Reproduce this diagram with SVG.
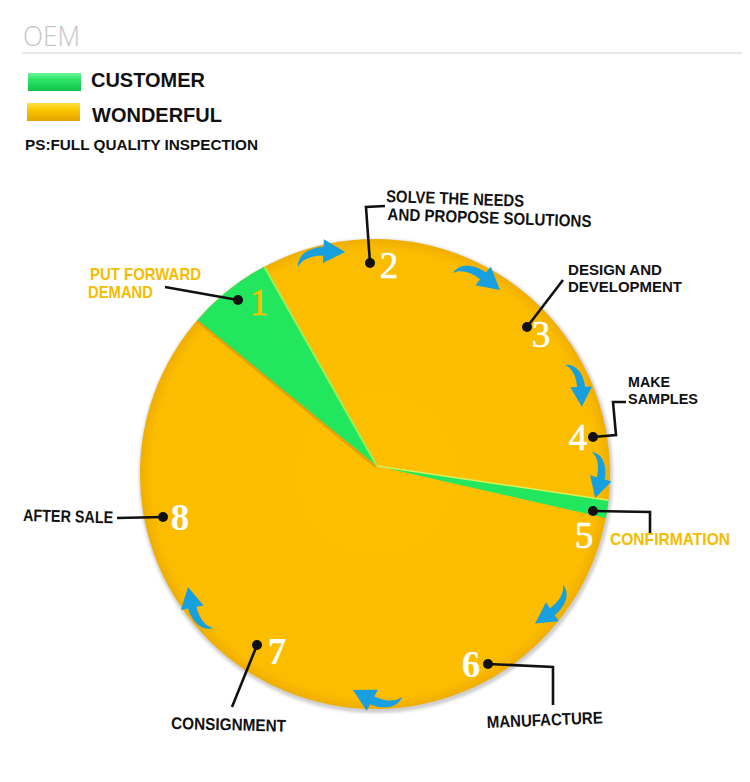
<svg xmlns="http://www.w3.org/2000/svg" width="750" height="782" viewBox="0 0 750 782">
<defs>
<style>
.lbl{font-family:"Liberation Sans",Arial,sans-serif;font-weight:bold;font-size:17px;fill:#111}
.sm{font-size:14.5px}
.ylw{fill:#F5BC00}
.num{font-family:"Liberation Serif","DejaVu Serif",serif;font-size:37px;fill:#fff;text-anchor:middle;stroke:#fff;stroke-width:0.6}
.bold{font-weight:bold;stroke-width:0}
.lead{fill:none;stroke:#111;stroke-width:2.6;stroke-linejoin:miter}
.dot{fill:#111}
.arw{fill:#189FDD}
</style>
<linearGradient id="gGreen" x1="0" y1="0" x2="0" y2="1">
<stop offset="0" stop-color="#6ff59a"/><stop offset="0.35" stop-color="#2ee56a"/><stop offset="1" stop-color="#10c247"/>
</linearGradient>
<linearGradient id="gYellow" x1="0" y1="0" x2="0" y2="1">
<stop offset="0" stop-color="#ffe24a"/><stop offset="0.35" stop-color="#fcc800"/><stop offset="1" stop-color="#e4a400"/>
</linearGradient>
<radialGradient id="gPie" cx="375" cy="474" r="235" gradientUnits="userSpaceOnUse">
<stop offset="0" stop-color="#FDBF00"/><stop offset="0.95" stop-color="#FCBD00"/><stop offset="1" stop-color="#F0AE00"/>
</radialGradient>
<filter id="blur" x="-10%" y="-10%" width="120%" height="120%"><feGaussianBlur stdDeviation="1.6"/></filter>
<path id="arrow" d="M0,0 C2,-10 14,-16 30.8,-11.7 L33.4,-18.8 L50,0 L25.2,3.8 L27.8,-3.3 C16,-7 6,-6 0,0 Z"/>
</defs>
<rect width="750" height="782" fill="#fff"/>

<g id="header">
<text x="23" y="46" textLength="57" lengthAdjust="spacingAndGlyphs" style="font-family:'Open Sans','Liberation Sans',sans-serif;font-weight:300;font-size:28px;fill:#c6c6c6">OEM</text>
<line x1="22" y1="53" x2="742" y2="53" stroke="#cfcfcf" stroke-width="1.2"/>
</g>

<g id="legend">
<rect x="28" y="73" width="53" height="18" fill="url(#gGreen)"/>
<rect x="27" y="103" width="53" height="18" fill="url(#gYellow)"/>
<text class="lbl" x="91" y="87" style="font-size:19.5px" textLength="114" lengthAdjust="spacingAndGlyphs">CUSTOMER</text>
<text class="lbl" x="92" y="121.5" style="font-size:19.5px" textLength="130" lengthAdjust="spacingAndGlyphs">WONDERFUL</text>
<text class="lbl" x="25" y="150" style="font-size:15px" textLength="233" lengthAdjust="spacingAndGlyphs">PS:FULL QUALITY INSPECTION</text>
</g>

<g id="pie">
<circle cx="376" cy="476" r="237" fill="#cfcfcf" filter="url(#blur)"/>
<circle cx="375" cy="474" r="235" fill="url(#gPie)"/>
<path d="M377,466 L264.3,266.7 A235,235 0 0,0 196.8,320.9 Z" fill="#22E65E"/>
<line x1="377" y1="466" x2="264.3" y2="266.7" stroke="#9bef5a" stroke-width="2"/>
<line x1="376" y1="467" x2="197.5" y2="321.5" stroke="#E4A200" stroke-width="2.5"/>
<path d="M377,466 L608.5,500.2 A235,235 0 0,1 605.9,518 Z" fill="#22E65E"/>
<line x1="377" y1="466" x2="608.5" y2="500.2" stroke="#d8f05a" stroke-width="1.5"/>
</g>

<g id="connectors">
<use href="#arrow" class="arw" transform="translate(298,267) rotate(-17.7) scale(0.99)"/>
<use href="#arrow" class="arw" transform="translate(453,273) rotate(19.9) scale(1)"/>
<use href="#arrow" class="arw" transform="translate(565,365) rotate(68) scale(0.9)"/>
<use href="#arrow" class="arw" transform="translate(592,452) rotate(86) scale(0.92)"/>
<use href="#arrow" class="arw" transform="translate(563,585) rotate(126) scale(0.95)"/>
<use href="#arrow" class="arw" transform="translate(402,697) rotate(188) scale(0.99)"/>
<use href="#arrow" class="arw" transform="translate(213,628) rotate(238.6) scale(0.96)"/>
</g>

<g id="step1">
<polyline class="lead" points="238,300 165,287"/>
<circle class="dot" cx="238" cy="300" r="5"/>
<text class="num" x="259" y="315" style="fill:#F5C000;stroke:#F5C000">1</text>
<text class="lbl ylw" x="90" y="280" textLength="111" lengthAdjust="spacingAndGlyphs">PUT FORWARD</text>
<text class="lbl ylw" x="88" y="298" textLength="65" lengthAdjust="spacingAndGlyphs">DEMAND</text>
</g>

<g id="step2">
<polyline class="lead" points="370,263 366,207 385,206"/>
<circle class="dot" cx="370" cy="263" r="5"/>
<text class="num" x="389" y="278">2</text>
<g transform="rotate(2 386 202)">
<text class="lbl" x="386" y="202" textLength="138" lengthAdjust="spacingAndGlyphs">SOLVE THE NEEDS</text>
<text class="lbl" x="388" y="220" textLength="204" lengthAdjust="spacingAndGlyphs">AND PROPOSE SOLUTIONS</text>
</g>
</g>

<g id="step3">
<polyline class="lead" points="527,327 563,280"/>
<circle class="dot" cx="527" cy="327" r="5"/>
<text class="num" x="541" y="347">3</text>
<text class="lbl sm" x="568" y="275" textLength="94" lengthAdjust="spacingAndGlyphs">DESIGN AND</text>
<text class="lbl sm" x="568" y="291.5" textLength="114" lengthAdjust="spacingAndGlyphs">DEVELOPMENT</text>
</g>

<g id="step4">
<polyline class="lead" points="593,437 616,435 613,402 626,402"/>
<circle class="dot" cx="593" cy="437" r="5"/>
<text class="num" x="578" y="450">4</text>
<text class="lbl sm" x="628" y="387" textLength="42" lengthAdjust="spacingAndGlyphs">MAKE</text>
<text class="lbl sm" x="628" y="403.5" textLength="70" lengthAdjust="spacingAndGlyphs">SAMPLES</text>
</g>

<g id="step5">
<polyline class="lead" points="593,511 650,512 650,533"/>
<circle class="dot" cx="593" cy="511" r="5"/>
<text class="num" x="584" y="548">5</text>
<text class="lbl ylw" x="610" y="545" textLength="120" lengthAdjust="spacingAndGlyphs">CONFIRMATION</text>
</g>

<g id="step6">
<polyline class="lead" points="488,664 553,667 553,705"/>
<circle class="dot" cx="488" cy="664" r="5"/>
<text class="num bold" x="471" y="677">6</text>
<text class="lbl" x="487" y="728" transform="rotate(-2.3 487 728)" textLength="116" lengthAdjust="spacingAndGlyphs">MANUFACTURE</text>
</g>

<g id="step7">
<polyline class="lead" points="257,645 232,707"/>
<circle class="dot" cx="257" cy="645" r="5"/>
<text class="num bold" x="277" y="664">7</text>
<text class="lbl" x="171" y="729" transform="rotate(1.3 171 729)" textLength="115" lengthAdjust="spacingAndGlyphs">CONSIGNMENT</text>
</g>

<g id="step8">
<polyline class="lead" points="163,517 117,518"/>
<circle class="dot" cx="163" cy="517" r="5"/>
<text class="num bold" x="180" y="530">8</text>
<text class="lbl" x="23" y="521" transform="rotate(1.5 23 521)" textLength="90" lengthAdjust="spacingAndGlyphs">AFTER SALE</text>
</g>
</svg>
